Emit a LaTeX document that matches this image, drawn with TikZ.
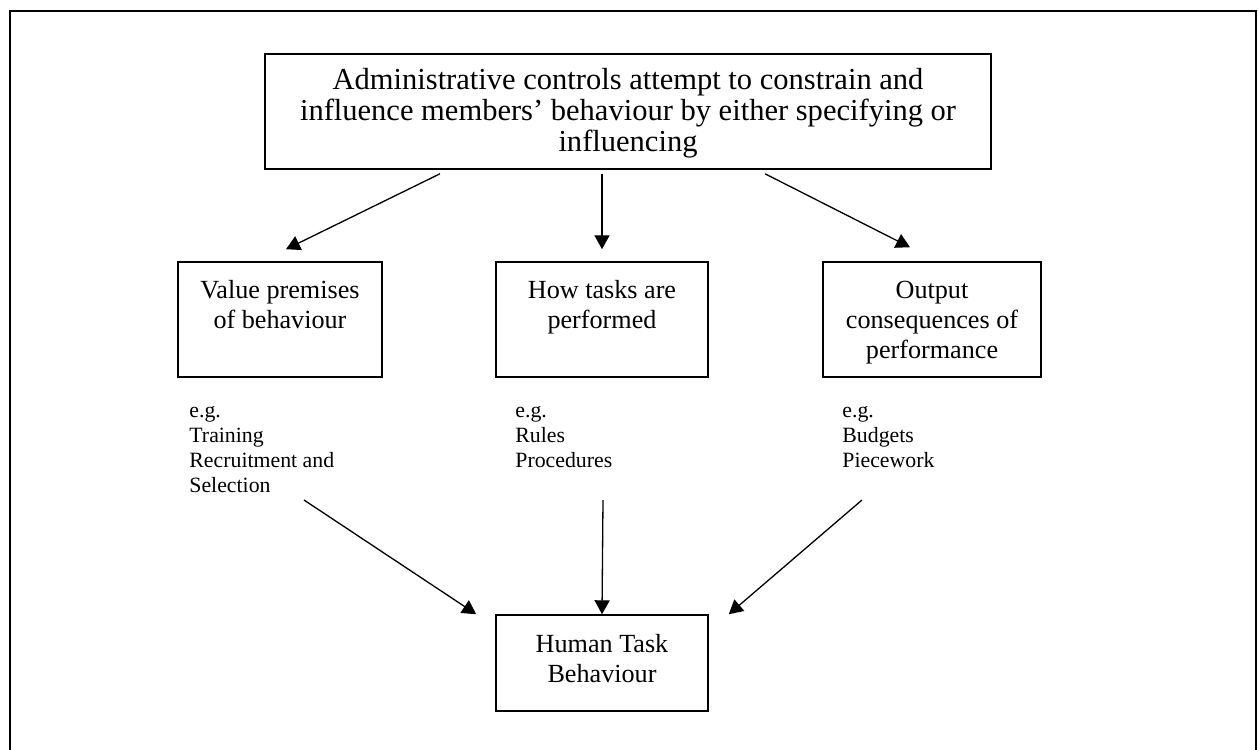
\documentclass[tikz,border=0pt]{standalone}
\usepackage{fontspec}
\setmainfont{Liberation Serif}
\usetikzlibrary{arrows.meta,calc}
\newcommand\pxu{0.4587pt}
\begin{document}
\begin{tikzpicture}[x=\pxu, y=-\pxu,
  frame/.style={draw, line width=0.95pt},
  box/.style={draw, line width=0.7pt, inner sep=0pt},
  boxtext/.style={font=\fontsize{12}{13.8}\selectfont, align=center, anchor=north, inner sep=0pt},
  headtext/.style={boxtext, font=\fontsize{14}{14.2}\selectfont},
  egtext/.style={font=\fontsize{10}{11.5}\selectfont, align=left, anchor=north west, inner sep=0pt},
  link/.style={line width=0.6pt, -{Triangle[length=6.4pt,width=6.9pt]}}]

% page area
\clip (0,0) rectangle (1258,749);
\fill[white] (0,0) rectangle (1258,749);

% outer frame (runs past the lower edge)
\draw[frame] (10,11) rectangle (1256,780);

% boxes
\node[box, minimum width=726*\pxu, minimum height=115*\pxu] (adm) at (628,111.5) {};
\node[box, minimum width=204*\pxu, minimum height=115*\pxu] (vp)  at (280,319.5) {};
\node[box, minimum width=212*\pxu, minimum height=115*\pxu] (how) at (602,319.5) {};
\node[box, minimum width=218*\pxu, minimum height=115*\pxu] (out) at (932,319.5) {};
\node[box, minimum width=212*\pxu, minimum height=96*\pxu]  (htb) at (602,663) {};

% box texts
\node[headtext] (adm-t) at (628,67.3) {\strut Administrative controls attempt to constrain and\\influence members’ behaviour by either specifying or\\influencing};
\node[boxtext] (vp-t)  at (280,277) {\strut Value premises\\of behaviour};
\node[boxtext] (how-t) at (602,277) {\strut How tasks are\\performed};
\node[boxtext] (out-t) at (932,277) {\strut Output\\consequences of\\performance};
\node[boxtext] (htb-t) at (602,631) {\strut Human Task\\Behaviour};

% examples
\node[egtext] (vp-eg)  at (189,399.5) {\strut e.g.\\Training\\Recruitment and\\Selection};
\node[egtext] (how-eg) at (515,399.5) {\strut e.g.\\Rules\\Procedures};
\node[egtext] (out-eg) at (842,399.5) {\strut e.g.\\Budgets\\Piecework};

% arrow starts below the examples
\coordinate (vp-x)  at (304,500);
\coordinate (how-x) at (603,500);
\coordinate (out-x) at (862,500);

% connectors
\draw[link] ($(adm.south)+(-188,4)$) -- ($(vp.north)+(6,-12)$);
\draw[link] ($(adm.south -| how.north)+(0,4)$) -- ($(how.north)+(0,-12)$);
\draw[link] ($(adm.south)+(137,4)$) -- ($(out.north)+(-22,-14)$);

\draw[link] (vp-x) -- ($(htb.north west)+(-19,0)$);
\draw[link] (how-x) -- (htb.north);
\draw[link] (out-x) -- ($(htb.north east)+(20,0)$);
\end{tikzpicture}
\end{document}
